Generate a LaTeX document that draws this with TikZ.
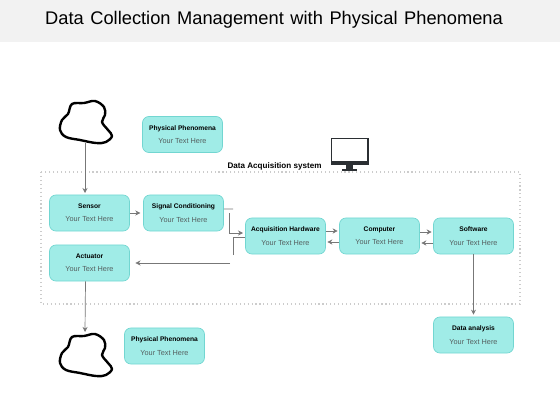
\documentclass[tikz,border=0pt]{standalone}
\usepackage{fontspec}
\setmainfont{Liberation Sans}
\usetikzlibrary{arrows.meta}
\definecolor{bandgray}{HTML}{F2F2F2}
\definecolor{boxfill}{HTML}{A0ECE7}
\definecolor{boxline}{HTML}{72D6D1}
\definecolor{linkgray}{HTML}{777777}
\definecolor{bodygray}{HTML}{555F5F}
\definecolor{screendark}{HTML}{2B2F33}
\tikzset{
  infobox/.style={draw=boxline,fill=boxfill,line width=0.5pt,rounded corners=0.16cm,
    minimum width=2cm,minimum height=0.9cm,inner sep=0pt,align=center,font=\fontsize{5.2}{9.5}\selectfont},
  link/.style={draw=linkgray,line width=0.5pt},
  linkarrow/.style={link,-{Stealth[length=3.6pt,width=3.6pt]}},
  blob/.style={draw=black,line width=1.7pt,line join=round}
}
\newcommand{\boxtext}[1]{{\fontsize{4.75}{9.5}\selectfont\textbf{#1}}\\\textcolor{bodygray}{Your Text Here}}
\begin{document}
\begin{tikzpicture}[x=0.025cm,y=-0.025cm]
\useasboundingbox (0,0) rectangle (560,420);
\fill[bandgray] (0,0) rectangle (560,42);
\node[font=\fontsize{13}{15}\selectfont] (title) at (274,20) {\spaceskip=0.36em Data Collection Management with Physical Phenomena};
% system frame
\draw[gray!40,line width=0.8pt,dotted] (41,172) rectangle (520,304);
\node[font=\fontsize{5.75}{7}\selectfont\bfseries] (systemlabel) at (274.5,166) {Data Acquisition system};
% monitor
\fill[screendark] (330.5,138) rectangle (368.5,165);
\fill[white] (332,139.5) rectangle (367,161.5);
\fill[screendark] (346,165) rectangle (353,169);
\fill[screendark] (342,169) rectangle (357,171);
% clouds
\foreach \dy in {0,233} {
  \draw[blob,shift={(0,\dy)}] plot[smooth cycle,tension=0.6] coordinates {
    (72,104) (84,103) (95,101) (104,107) (105,115) (102,122) (108,130) (112,136)
    (106,142) (96,143) (80,140) (66,137) (60,130) (62,120) (68,114)};
}
\coordinate (cloudtop) at (85,143);
\coordinate (cloudbottom) at (85,332);
% boxes
\node[infobox] (phystop) at (182.5,134.5) {\boxtext{Physical Phenomena}};
\node[infobox] (sensor) at (89.5,213) {\boxtext{Sensor}};
\node[infobox] (signal) at (183.5,213) {\boxtext{Signal Conditioning}};
\node[infobox] (acq) at (285.5,236) {\boxtext{Acquisition Hardware}};
\node[infobox] (computer) at (379.5,236) {\boxtext{Computer}};
\node[infobox] (software) at (473.5,236) {\boxtext{Software}};
\node[infobox] (actuator) at (89.5,263) {\boxtext{Actuator}};
\node[infobox] (analysis) at (473.5,335) {\boxtext{Data analysis}};
\node[infobox] (physbottom) at (164.5,346) {\boxtext{Physical Phenomena}};
% loose ends
\coordinate (signalstub) at (233,209);
\coordinate (bendstart) at (229,213);
\coordinate (bendcorner) at (229,233);
\coordinate (bendend) at (243,233);
\coordinate (backstart) at (233,255);
\coordinate (backcorner) at (233,237);
\coordinate (backend) at (245,237);
\coordinate (feedstart) at (230,263);
% connectors
\draw[linkarrow] (cloudtop) -- (85,193);
\draw[linkarrow,shorten >=2pt] (sensor) -- (signal);
\draw[link] ([yshift=0.1cm]signal.east) -- (signalstub);
\draw[linkarrow] (bendstart) -- (bendcorner) -- (bendend);
\draw[link] (backstart) -- (backcorner) -- (backend);
\draw[linkarrow,shorten >=4pt] (feedstart) -- (actuator.east);
\draw[linkarrow,shorten >=1pt] ([yshift=0.125cm]acq.east) -- ([yshift=0.125cm]computer.west);
\draw[linkarrow,shorten >=1pt] ([yshift=-0.15cm]computer.west) -- ([yshift=-0.15cm]acq.east);
\draw[linkarrow,shorten >=1pt] ([yshift=0.1cm]computer.east) -- ([yshift=0.1cm]software.west);
\draw[linkarrow,shorten >=1pt] ([yshift=-0.175cm]software.west) -- ([yshift=-0.175cm]computer.east);
\draw[linkarrow,shorten >=1.4pt] (software.south) -- (analysis.north);
\draw[linkarrow] ([xshift=-0.1cm]actuator.south) -- (cloudbottom);
\end{tikzpicture}
\end{document}
